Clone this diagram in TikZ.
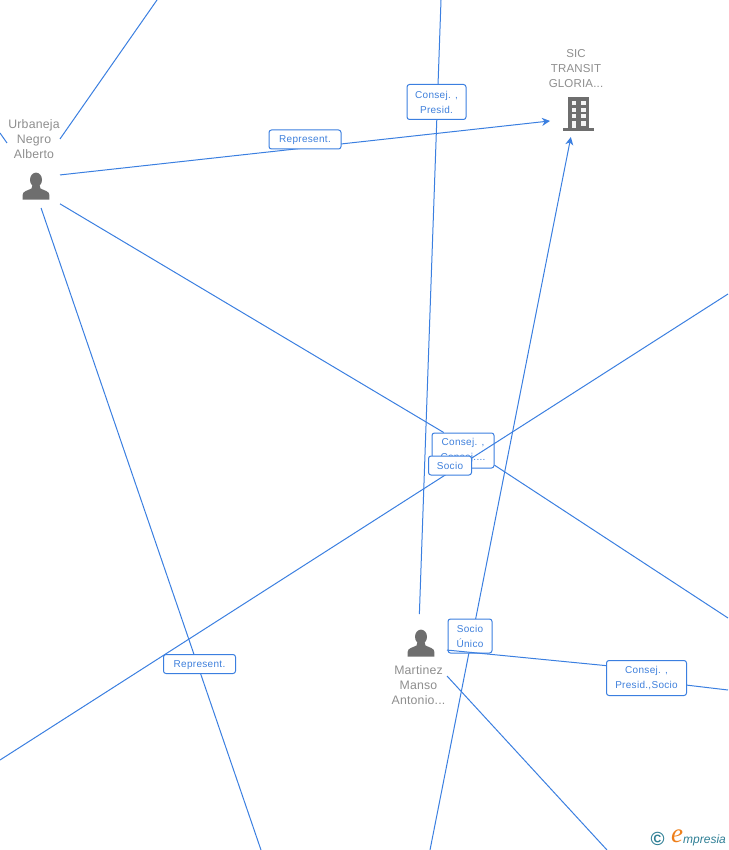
\documentclass[tikz,border=0pt]{standalone}
\usepackage{fontspec}
\setmainfont{Liberation Sans}
\newfontfamily\logoserif{Liberation Serif}
\newfontfamily\rolefont[LetterSpace=3]{Liberation Sans}
\newfontfamily\whofont[LetterSpace=1.5]{Liberation Sans}
\usepackage{xcolor}
\usetikzlibrary{arrows.meta}
\definecolor{Link}{HTML}{3B7FE0}
\definecolor{LinkText}{HTML}{3F80DC}
\definecolor{NameText}{HTML}{8E8E8E}
\definecolor{Icon}{HTML}{6E6E6E}
\definecolor{LogoTeal}{HTML}{2F7F95}
\definecolor{LogoOrange}{HTML}{EE7F1A}

\tikzset{
  role/.style={draw=Link,line width=1pt,rounded corners=2.5pt,fill=white,text=LinkText,align=center,
    font=\rolefont\fontsize{10}{15}\selectfont,inner sep=0pt},
  who/.style={text=NameText,align=center,font=\whofont\fontsize{12.3}{15}\selectfont,inner sep=0pt},
  anchorbox/.style={minimum width=#1,inner sep=0pt,outer sep=0pt},
  link/.style={draw=Link,line width=1pt},
  person/.pic={
    \fill[Icon] (0,-6.2) ellipse (6 and 7.2);
    \fill[Icon] (-13.4,13.6) -- (-13.4,9) .. controls (-13.4,5) and (-8,4.5) .. (-4.5,2.5)
      -- (-3.5,-1) -- (3.5,-1) -- (4.5,2.5) .. controls (8,4.5) and (13.4,5) .. (13.4,9) -- (13.4,13.6) -- cycle;
  },
  building/.pic={
    \fill[Icon] (-10.5,-17) rectangle (11,14.5);
    \fill[Icon] (-15.5,14.5) rectangle (15.5,17);
    \foreach \wy in {-13,-6.4,0.2} {
      \fill[white!92!Icon] (-6.3,\wy) rectangle (-2,\wy+4);
      \fill[white!92!Icon] (3,\wy) rectangle (7.7,\wy+4);
    }
    \fill[white!92!Icon] (-6.3,7) rectangle (-2,14.5);
    \fill[white!92!Icon] (3,7) rectangle (7.7,12);
  }
}

\begin{document}
\begin{tikzpicture}[x=1pt,y=-1pt,>={Stealth[length=8pt,width=8pt,inset=2.5pt]}]
  \useasboundingbox (0,0) rectangle (728,850);

  % who
  \node[anchorbox=48pt,minimum height=72pt] (urbaneja) at (36,172) {};
  \node[anchorbox=56pt,minimum height=44pt] (sic) at (578,115) {};
  \node[anchorbox=52pt,minimum height=62pt] (martinez) at (421,645) {};
  \node[who] (urbanejaname) at (34,139) {Urbaneja\\Negro\\Alberto};
  \node[who,font=\whofont\fontsize{11.5}{15}\selectfont] (sicname) at (576,69) {SIC\\TRANSIT\\GLORIA...};
  \node[who] (martinezname) at (418.5,685) {Martinez\\Manso\\Antonio...};
  \pic at (36,186) {person};
  \pic at (421,643) {person};
  \pic at (578,114) {building};

  % free ends on the edge of the page
  \coordinate (topa) at (157,0);
  \coordinate (topb) at (441,0);
  \coordinate (lefta) at (0,133);
  \coordinate (leftaend) at (7,143);
  \coordinate (leftb) at (0,760);
  \coordinate (righta) at (728,294);
  \coordinate (rightb) at (728,618);
  \coordinate (rightc) at (728,690);
  \coordinate (bota) at (261,850);
  \coordinate (botb) at (430,850);
  \coordinate (botc) at (607,850);

  \draw[link] (lefta) -- (leftaend);
  \draw[link] (urbaneja.54.8) -- (topa);
  \draw[link,->] (urbaneja.-7) -- (sic.192);
  \draw[link] (urbaneja.-82) -- (bota);
  \draw[link] (martinez.93.7) -- (topb);
  \draw[link,->] (botb) -- (sic.252.3);
  \draw[link] (martinez.-50.9) -- (botc);

  \node[role,text depth=0pt,minimum width=72pt,minimum height=19pt] (represa) at (305,139.5) {Represent.};
  \node[role,minimum width=59pt,minimum height=35pt] (consejtop) at (436.5,102) {Consej. ,\\Presid.};
  \node[role,text depth=0pt,minimum width=72pt,minimum height=19pt] (represb) at (199.5,664) {Represent.};
  \node[role,minimum width=62pt,minimum height=35pt] (consejmid) at (463,450.5) {Consej. ,\\Consej....};
  \draw[link] (urbaneja.-53) -- (consejmid.137);
  \draw[link] (consejmid.-25.8) -- (rightb);
  \draw[link] (righta) -- (leftb);
  \node[role,minimum width=43pt,minimum height=19pt] (socio) at (450,465.5) {Socio};
  \node[role,minimum width=44pt,minimum height=34pt] (socionico) at (470,636) {Socio\\Único};
  \node[role,minimum width=80pt,minimum height=35pt] (consejsocio) at (646.5,678) {Consej. ,\\Presid.,Socio};
  \draw[link] (martinez.-11) -- (consejsocio.163);
  \draw[link] (consejsocio.-10) -- (rightc);

  % logo
  \node[text=LogoTeal,inner sep=0pt,font=\bfseries\fontsize{19}{19}\selectfont] (logoc) at (657.5,839) {\textcopyright};
  \node[text=LogoOrange,inner sep=0pt,font=\logoserif\itshape\fontsize{27}{27}\selectfont] (logoe) at (677,836) {e};
  \node[text=LogoTeal,inner sep=0pt,anchor=west,font=\itshape\fontsize{12}{12}\selectfont] (logotext) at (683,840) {mpresia};
\end{tikzpicture}
\end{document}
